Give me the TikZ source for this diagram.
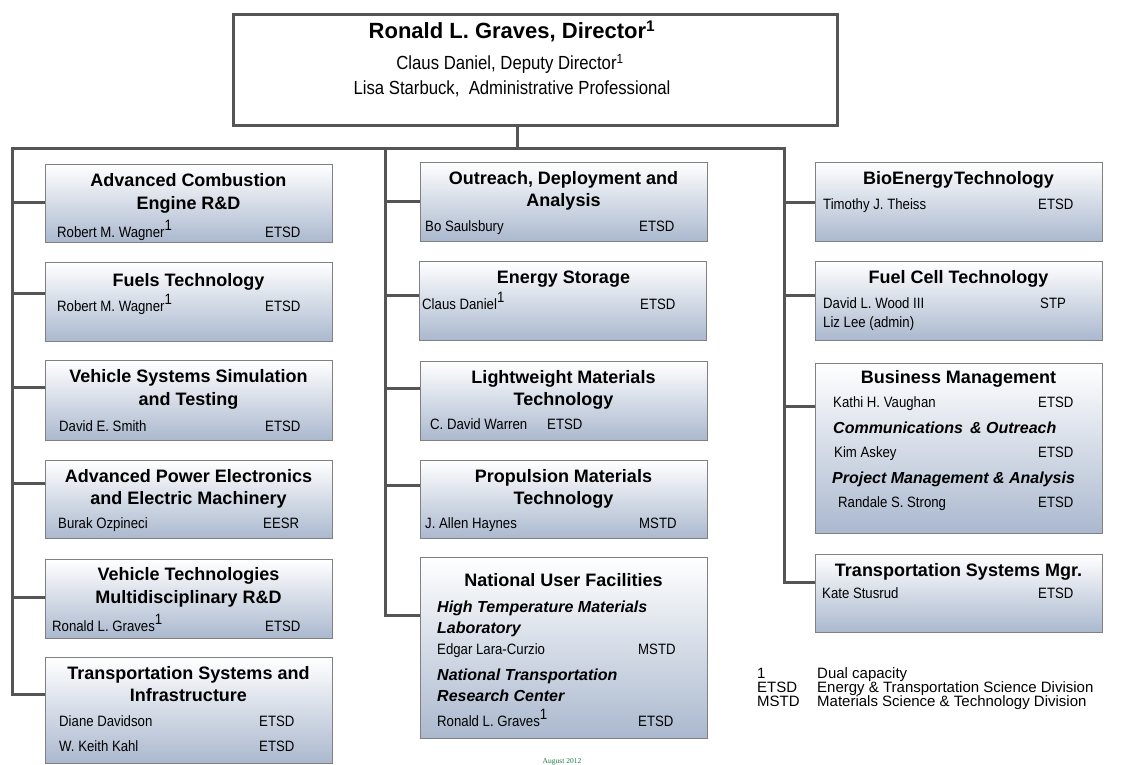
\documentclass[tikz,border=0pt]{standalone}
\usepackage{fontspec}
\setmainfont{Liberation Sans}
\newfontfamily\serifdate{Liberation Serif}
\newfontfamily\narrowfont{Liberation Sans}[FakeStretch=0.88]
\usetikzlibrary{calc}
\definecolor{boxblue}{RGB}{170,184,206}
\definecolor{boxline}{RGB}{128,128,128}
\definecolor{connc}{RGB}{85,85,85}
\definecolor{dategreen}{RGB}{30,120,70}
\newcommand{\dcap}{\raisebox{7pt}{\fontsize{15}{15}\selectfont 1}}
\begin{document}
\begin{tikzpicture}[x=1pt,y=-1pt,
  unit/.style={draw=boxline, line width=1.2pt, top color=white, bottom color=boxblue, anchor=north west, inner sep=0pt, minimum width=287pt},
  ttl/.style={font=\fontsize{18}{22}\selectfont\bfseries, anchor=mid, inner sep=0pt, yshift=-3pt},
  sub/.style={font=\fontsize{16}{20}\selectfont\bfseries\itshape, anchor=mid west, inner sep=0pt, yshift=-2pt},
  nm/.style={font=\narrowfont\fontsize{15}{17}\selectfont, anchor=mid west, inner sep=0pt},
  hd/.style={font=\narrowfont\fontsize{19}{22}\selectfont, anchor=mid, inner sep=0pt},
  conn/.style={draw=connc, line width=3pt, line join=miter},
  leg/.style={font=\fontsize{15}{17}\selectfont, anchor=mid west, inner sep=0pt}]
\useasboundingbox (0,0) rectangle (1121,765);

% top box
\node[draw=connc, line width=3pt, fill=white, anchor=north west, minimum width=604pt, minimum height=111pt, inner sep=0pt] (top) at (232,13) {};
\node[font=\fontsize{22}{26}\selectfont\bfseries, anchor=mid, inner sep=0pt] (dir) at (512,36) {Ronald L. Graves, Director\textsuperscript{1}};
\node[hd] (dep) at (510,67) {Claus Daniel, Deputy Director\textsuperscript{1}};
\node[hd] (adm) at (512,92) {Lisa Starbuck,\ \ Administrative Professional};

% left column
\node[unit, minimum height=78pt] (B1) at (45,164) {};
\node[ttl] (B1a) at (188.5,181) {Advanced Combustion};
\node[ttl] (B1b) at (188.5,204) {Engine R\&D};
\node[nm] (B1n) at (57,235) {Robert M. Wagner\dcap};
\node[nm] (B1d) at (265,235) {ETSD};

\node[unit, minimum height=79pt] (B2) at (45,262) {};
\node[ttl] (B2a) at (188.5,281) {Fuels Technology};
\node[nm] (B2n) at (57,309) {Robert M. Wagner\dcap};
\node[nm] (B2d) at (265,309) {ETSD};

\node[unit, minimum height=80pt] (B3) at (45,360) {};
\node[ttl] (B3a) at (188.5,377) {Vehicle Systems Simulation};
\node[ttl] (B3b) at (188.5,400) {and Testing};
\node[nm] (B3n) at (59,429) {David E. Smith};
\node[nm] (B3d) at (265,429) {ETSD};

\node[unit, minimum height=78pt] (B4) at (45,460) {};
\node[ttl] (B4a) at (188.5,477) {Advanced Power Electronics};
\node[ttl] (B4b) at (188.5,499) {and Electric Machinery};
\node[nm] (B4n) at (58,526) {Burak Ozpineci};
\node[nm] (B4d) at (263,526) {EESR};

\node[unit, minimum height=79pt] (B5) at (45,559) {};
\node[ttl] (B5a) at (188.5,575) {Vehicle Technologies};
\node[ttl] (B5b) at (188.5,598) {Multidisciplinary R\&D};
\node[nm] (B5n) at (52,629) {Ronald L. Graves\dcap};
\node[nm] (B5d) at (265,629) {ETSD};

\node[unit, minimum height=106pt] (B6) at (45,657) {};
\node[ttl] (B6a) at (188.5,674) {Transportation Systems and};
\node[ttl] (B6b) at (188.5,696) {Infrastructure};
\node[nm] (B6n) at (59,724) {Diane Davidson};
\node[nm] (B6d) at (259,724) {ETSD};
\node[nm] (B6m) at (59,749) {W. Keith Kahl};
\node[nm] (B6e) at (259,749) {ETSD};

% middle column
\node[unit, minimum height=79pt] (M1) at (420,162) {};
\node[ttl] (M1a) at (563.5,179) {Outreach, Deployment and};
\node[ttl] (M1b) at (563.5,201) {Analysis};
\node[nm] (M1n) at (425,229) {Bo Saulsbury};
\node[nm] (M1d) at (639,229) {ETSD};

\node[unit, minimum height=79pt] (M2) at (419,261) {};
\node[ttl] (M2a) at (563.5,278) {Energy Storage};
\node[nm] (M2n) at (422,307) {Claus Daniel\dcap};
\node[nm] (M2d) at (640,307) {ETSD};

\node[unit, minimum height=79pt] (M3) at (420,361) {};
\node[ttl] (M3a) at (563.5,378) {Lightweight Materials};
\node[ttl] (M3b) at (563.5,400) {Technology};
\node[nm] (M3n) at (430,427) {C. David Warren};
\node[nm] (M3d) at (547,427) {ETSD};

\node[unit, minimum height=78pt] (M4) at (420,460) {};
\node[ttl] (M4a) at (563.5,477) {Propulsion Materials};
\node[ttl] (M4b) at (563.5,499) {Technology};
\node[nm] (M4n) at (425,526) {J. Allen Haynes};
\node[nm] (M4d) at (639,526) {MSTD};

\node[unit, minimum height=181pt] (M5) at (420,557) {};
\node[ttl] (M5a) at (563.5,581) {National User Facilities};
\node[sub] (M5s) at (437,608) {High Temperature Materials};
\node[sub] (M5t) at (437,629) {Laboratory};
\node[nm] (M5n) at (437,652) {Edgar Lara-Curzio};
\node[nm] (M5d) at (638,652) {MSTD};
\node[sub] (M5u) at (437,676) {National Transportation};
\node[sub] (M5v) at (437,697) {Research Center};
\node[nm] (M5m) at (437,724) {Ronald L. Graves\dcap};
\node[nm] (M5e) at (638,724) {ETSD};

% right column
\node[unit, minimum height=79pt] (R1) at (815,162) {};
\node[ttl] (R1a) at (958.5,179) {BioEnergy\hspace{1pt}Technology};
\node[nm] (R1n) at (823,207) {Timothy J. Theiss};
\node[nm] (R1d) at (1038,207) {ETSD};

\node[unit, minimum height=79pt] (R2) at (815,261) {};
\node[ttl] (R2a) at (958.5,278) {Fuel Cell Technology};
\node[nm] (R2n) at (823,306) {David L. Wood III};
\node[nm] (R2d) at (1040,306) {STP};
\node[nm] (R2m) at (823,325) {Liz Lee (admin)};

\node[unit, minimum height=170pt] (R3) at (815,363) {};
\node[ttl] (R3a) at (958.5,378) {Business Management};
\node[nm] (R3n) at (833,405) {Kathi H. Vaughan};
\node[nm] (R3d) at (1038,405) {ETSD};
\node[sub] (R3s) at (833,429) {Communications \,\& Outreach};
\node[nm] (R3m) at (834,455) {Kim Askey};
\node[nm] (R3e) at (1038,455) {ETSD};
\node[sub] (R3t) at (832,479) {Project Management \& Analysis};
\node[nm] (R3o) at (838,505) {Randale S. Strong};
\node[nm] (R3f) at (1038,505) {ETSD};

\node[unit, minimum height=78pt] (R4) at (815,554) {};
\node[ttl] (R4a) at (958.5,571) {Transportation Systems Mgr.};
\node[nm] (R4n) at (822,596) {Kate Stusrud};
\node[nm] (R4d) at (1038,596) {ETSD};

% legend
\node[leg] (L1a) at (757,676) {1};
\node[leg] (L1b) at (817,676) {Dual capacity};
\node[leg] (L2a) at (757,690) {ETSD};
\node[leg] (L2b) at (817,690) {Energy \& Transportation Science Division};
\node[leg] (L3a) at (757,704) {MSTD};
\node[leg] (L3b) at (817,704) {Materials Science \& Technology Division};

\node[font=\serifdate\fontsize{7.5}{9}\selectfont, text=dategreen, inner sep=0pt] (date) at (562,762) {August 2012};

% connectors
\coordinate (jn) at (517,148);
\coordinate (lt) at (12,148);
\coordinate (mt) at (385,148);
\coordinate (rt) at (784,148);
\coordinate (lb) at (12,694);
\coordinate (mb) at (385,615);
\coordinate (rb) at (784,582);
\draw[conn] (top.south -| jn) -- (jn);
\draw[conn] (B6.west |- lb) -- (lb) -- (lt) -- (rt) -- (rb) -- (R4.west |- rb);
\draw[conn] (mt) -- (mb) -- (M5.west |- mb);

\coordinate (l1) at (12,202);
\coordinate (l2) at (12,293);
\coordinate (l3) at (12,387);
\coordinate (l4) at (12,483);
\coordinate (l5) at (12,597);
\draw[conn] (l1) -- (B1.west |- l1);
\draw[conn] (l2) -- (B2.west |- l2);
\draw[conn] (l3) -- (B3.west |- l3);
\draw[conn] (l4) -- (B4.west |- l4);
\draw[conn] (l5) -- (B5.west |- l5);

\coordinate (m1) at (385,201);
\coordinate (m2) at (385,295);
\coordinate (m3) at (385,388);
\coordinate (m4) at (385,485);
\draw[conn] (m1) -- (M1.west |- m1);
\draw[conn] (m2) -- (M2.west |- m2);
\draw[conn] (m3) -- (M3.west |- m3);
\draw[conn] (m4) -- (M4.west |- m4);

\coordinate (r1) at (784,202);
\coordinate (r2) at (784,295);
\coordinate (r3) at (784,406);
\draw[conn] (r1) -- (R1.west |- r1);
\draw[conn] (r2) -- (R2.west |- r2);
\draw[conn] (r3) -- (R3.west |- r3);
\end{tikzpicture}
\end{document}
